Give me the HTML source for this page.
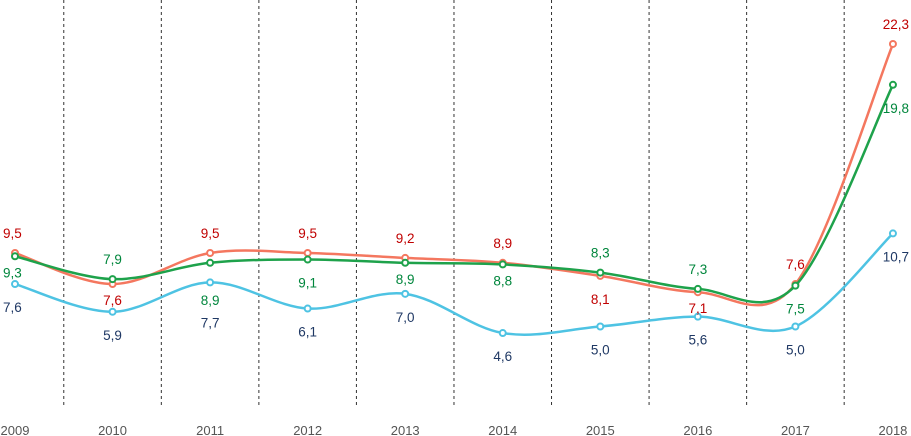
<!DOCTYPE html>
<html><head><meta charset="utf-8"><style>
body{margin:0;background:#fff;}
svg{display:block;font-family:"Liberation Sans",sans-serif;}
</style></head><body>
<svg id="chart" width="911" height="436" viewBox="0 0 911 436" xmlns="http://www.w3.org/2000/svg"></svg>
<script>
const years=["2009","2010","2011","2012","2013","2014","2015","2016","2017","2018"];
const redValues=[9.5,7.6,9.5,9.5,9.2,8.9,8.1,7.1,7.6,22.3];
const greenValues=[9.3,7.9,8.9,9.1,8.9,8.8,8.3,7.3,7.5,19.8];
const blueValues=[7.6,5.9,7.7,6.1,7.0,4.6,5.0,5.6,5.0,10.7];
const redLabelPos=["a","c","a","a","a","a","b","c","a","a"];
const greenLabelPos=["c","a","e","b","c","c","a","a","b","b"];
const blueLabelPos=["b","b","f","b","b","b","b","b","b","b"];

const NS="http://www.w3.org/2000/svg";
const svg=document.getElementById('chart');
function x(i){return 15+i*97.55;}
function y(v){return 253+(9.5-v)*16.33;}
function el(t,a,p){const e=document.createElementNS(NS,t);for(const k in a)e.setAttribute(k,a[k]);(p||svg).appendChild(e);return e;}

for(let i=0;i<years.length-1;i++){
  const gx=(x(i)+x(i+1))/2;
  const g=el('line',{x1:gx,x2:gx,y1:0,y2:406,stroke:'#333','stroke-width':1,'stroke-dasharray':'3,3'});
  
  
}
years.forEach((yr,i)=>{
  const t=el('text',{x:x(i),y:435,'text-anchor':'middle','font-size':13,fill:'#555'});
  t.textContent=yr;
  
  
});
function smooth(pts){
  let d=`M${pts[0][0]},${pts[0][1]}`;
  for(let i=0;i<pts.length-1;i++){
    const p0=pts[Math.max(0,i-1)],p1=pts[i],p2=pts[i+1],p3=pts[Math.min(pts.length-1,i+2)];
    const c1=[p1[0]+(p2[0]-p0[0])/6,p1[1]+(p2[1]-p0[1])/6];
    const c2=[p2[0]-(p3[0]-p1[0])/6,p2[1]-(p3[1]-p1[1])/6];
    d+=` C${c1[0]},${c1[1]} ${c2[0]},${c2[1]} ${p2[0]},${p2[1]}`;
  }
  return d;
}
const offs={a:-15,b:28,c:21,e:42,f:45};
function series(vals,pos,line,lab,name){
  const g=el('g',{});
  
  
  const pts=vals.map((v,i)=>[x(i),y(v)]);
  const p=el('path',{d:smooth(pts),fill:'none',stroke:line,'stroke-width':2.5},g);
  
  
  pts.forEach((q,i)=>{
    const c=el('circle',{cx:q[0],cy:q[1],r:3,fill:'#fff',stroke:line,'stroke-width':2},g);
    
    
    let tx=q[0],anchor='middle';
    if(i===0){anchor='start';tx=3;}
    if(i===vals.length-1){anchor='end';tx=909;}
    const ty=q[1]+offs[pos[i]];
    const t=el('text',{x:tx,y:ty,'text-anchor':anchor,'font-size':13.5,fill:lab},g);
    t.textContent=vals[i].toFixed(1).replace('.',',');
    
    
  });
}
series(blueValues,blueLabelPos,'#4ec3e3','#1f3864','blue');
series(redValues,redLabelPos,'#f4775f','#c00000','red');
series(greenValues,greenLabelPos,'#1ea24b','#00863c','green');
</script>
</body></html>
